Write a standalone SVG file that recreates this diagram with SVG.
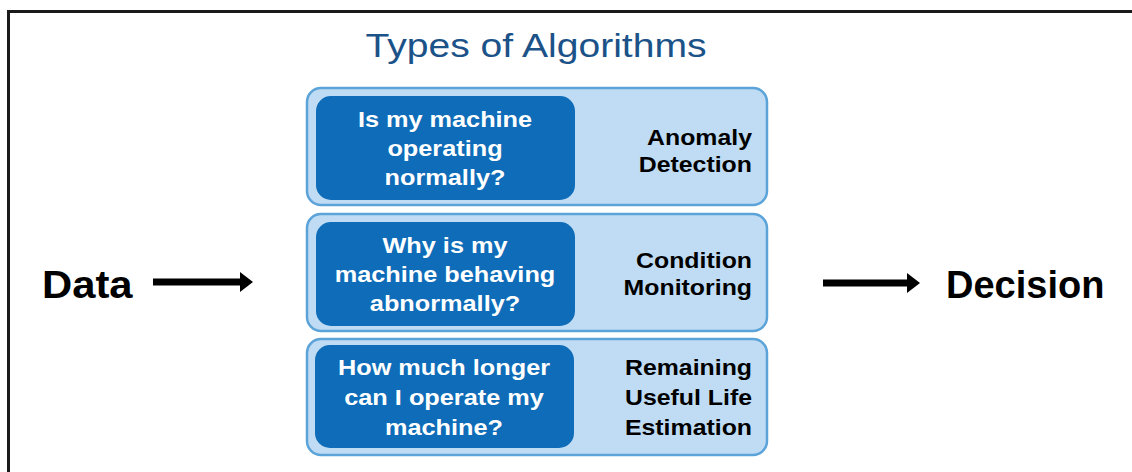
<svg xmlns="http://www.w3.org/2000/svg" width="1132" height="472" viewBox="0 0 1132 472">
  <defs>
    <style>
      .frame { fill: none; stroke: #1a1a1a; stroke-width: 3; }
      .title { font-family: "Liberation Sans", Arial, sans-serif; font-size: 34px; fill: #1b5288; text-anchor: middle; }
      .outer { fill: #bfdcf4; stroke: #5ba3d8; stroke-width: 2.5; }
      .inner { fill: #0e6cb8; }
      .q { font-family: "Liberation Sans", Arial, sans-serif; font-weight: bold; font-size: 22px; fill: #ffffff; text-anchor: middle; }
      .lbl { font-family: "Liberation Sans", Arial, sans-serif; font-weight: bold; font-size: 22px; fill: #000000; text-anchor: end; }
      .big { font-family: "Liberation Sans", Arial, sans-serif; font-weight: bold; font-size: 38px; fill: #000000; }
      .shaft { stroke: #000000; stroke-width: 7; fill: none; }
    </style>
    <marker id="head" viewBox="0 0 13 20" refX="0" refY="10" markerWidth="13" markerHeight="20" orient="auto" markerUnits="userSpaceOnUse">
      <path d="M0,0 L13,10 L0,20 Z" fill="#000000"/>
    </marker>
  </defs>

  <rect width="1132" height="472" fill="#ffffff"/>
  <!-- outer frame: top and left edges only -->
  <path class="frame" d="M8.5,472 L8.5,11.5 L1132,11.5"/>

  <text class="title" transform="translate(536,57) scale(1.15,1)" x="0" y="0">Types of Algorithms</text>

  <g id="anomaly-detection">
    <rect class="outer" x="307" y="88" width="460" height="117" rx="14"/>
    <rect class="inner" x="316" y="96" width="259" height="104" rx="15"/>
    <g transform="translate(445,0) scale(1.15,1)">
      <text class="q" x="0" y="127">Is my machine</text>
      <text class="q" x="0" y="156">operating</text>
      <text class="q" x="0" y="185">normally?</text>
    </g>
    <g transform="translate(752,0) scale(1.13,1)">
      <text class="lbl" x="0" y="145">Anomaly</text>
      <text class="lbl" x="0" y="172">Detection</text>
    </g>
  </g>

  <g id="condition-monitoring">
    <rect class="outer" x="307" y="214" width="460" height="117" rx="14"/>
    <rect class="inner" x="316" y="222" width="259" height="104" rx="15"/>
    <g transform="translate(445,0) scale(1.15,1)">
      <text class="q" x="0" y="253">Why is my</text>
      <text class="q" x="0" y="282">machine behaving</text>
      <text class="q" x="0" y="311">abnormally?</text>
    </g>
    <g transform="translate(752,0) scale(1.13,1)">
      <text class="lbl" x="0" y="268">Condition</text>
      <text class="lbl" x="0" y="295">Monitoring</text>
    </g>
  </g>

  <g id="remaining-useful-life">
    <rect class="outer" x="307" y="339" width="460" height="116" rx="14"/>
    <rect class="inner" x="315" y="345" width="259" height="103" rx="15"/>
    <g transform="translate(444,0) scale(1.15,1)">
      <text class="q" x="0" y="375">How much longer</text>
      <text class="q" x="0" y="405">can I operate my</text>
      <text class="q" x="0" y="435">machine?</text>
    </g>
    <g transform="translate(752,0) scale(1.13,1)">
      <text class="lbl" x="0" y="375">Remaining</text>
      <text class="lbl" x="0" y="405">Useful Life</text>
      <text class="lbl" x="0" y="435">Estimation</text>
    </g>
  </g>

  <g id="data">
    <text class="big" transform="translate(42,298) scale(1.1,1)" x="0" y="0">Data</text>
  </g>

  <g id="decision">
    <text class="big" x="946" y="298">Decision</text>
  </g>

  <g id="connectors">
    <line class="shaft" x1="153" y1="282" x2="240" y2="282" marker-end="url(#head)"/>
    <line class="shaft" x1="823" y1="283" x2="907" y2="283" marker-end="url(#head)"/>
  </g>
</svg>
